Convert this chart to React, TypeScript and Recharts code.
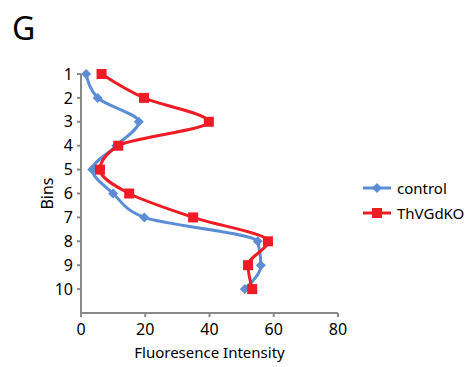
import React from 'react';
import { LineChart, Line, XAxis, YAxis, Legend } from 'recharts';

const bins = [1, 2, 3, 4, 5, 6, 7, 8, 9, 10];
const control = [1.6, 5.2, 18, 11, 3.5, 10, 19.7, 55, 56, 51];
const thvgdko = [6.4, 19.6, 39.8, 11.6, 5.9, 15, 34.9, 58.2, 52, 53.3];
const xTicks = [0, 20, 40, 60, 80];

const BLUE = '#5B8DD6';
const RED = '#EE1C25';
const AXIS = '#8A8A8A';
const FONT = '"Noto Sans", "Open Sans", sans-serif';

const data = bins.map((bin, i) => ({ bin, control: control[i], thvgdko: thvgdko[i] }));

const Diamond = (props: any) => {
  const { cx, cy } = props;
  if (cx == null || cy == null) return null;
  const r = 5;
  return <polygon points={`${cx},${cy - r} ${cx + r},${cy} ${cx},${cy + r} ${cx - r},${cy}`} fill={BLUE} />;
};

const Square = (props: any) => {
  const { cx, cy } = props;
  if (cx == null || cy == null) return null;
  const s = 10;
  return <rect x={cx - s / 2} y={cy - s / 2} width={s} height={s} fill={RED} />;
};

const legendItems = [
  { name: 'control', color: BLUE, shape: 'diamond' },
  { name: 'ThVGdKO', color: RED, shape: 'square' },
];

const LegendContent = () => (
  <div>
    {legendItems.map((item) => (
      <div key={item.name} style={{ display: 'flex', alignItems: 'center', height: 25 }}>
        <svg width={30} height={12}>
          <line x1={0} y1={6} x2={28} y2={6} stroke={item.color} strokeWidth={3} />
          {item.shape === 'diamond' ? (
            <polygon points="14,1 19,6 14,11 9,6" fill={item.color} />
          ) : (
            <rect x={9} y={1} width={10} height={10} fill={item.color} />
          )}
        </svg>
        <span style={{ marginLeft: 4, fontSize: 15, color: '#000', fontFamily: FONT }}>{item.name}</span>
      </div>
    ))}
  </div>
);

export default function App() {
  return (
    <div style={{ position: 'absolute', left: 0, top: 0, width: 475, height: 367, background: '#fff' }}>
      <div style={{ position: 'absolute', left: 12, top: 6, fontSize: 32, fontFamily: FONT, color: '#000' }}>G</div>
      <LineChart
        width={475}
        height={367}
        data={data}
        layout="vertical"
        margin={{ top: 74, right: 137, bottom: 4, left: 41 }}
      >
        <XAxis
          type="number"
          domain={[0, 80]}
          ticks={xTicks}
          stroke={AXIS}
          strokeWidth={2}
          tickSize={4}
          tickMargin={7}
          height={50}
          tick={{ fontSize: 16, fill: '#000', fontFamily: FONT }}
          label={{
            value: 'Fluoresence Intensity',
            position: 'insideBottom',
            offset: 5,
            style: { fontSize: 15, fill: '#000', fontFamily: FONT },
          }}
        />
        <YAxis
          type="number"
          dataKey="bin"
          domain={[1, 11]}
          ticks={bins}
          stroke={AXIS}
          strokeWidth={2}
          tickSize={4}
          tickMargin={4}
          width={40}
          tick={{ fontSize: 16, fill: '#000', fontFamily: FONT }}
          label={{
            value: 'Bins',
            angle: -90,
            position: 'insideLeft',
            offset: 6,
            style: { textAnchor: 'middle', fontSize: 16, fill: '#000', fontFamily: FONT },
          }}
        />
        <Legend
          layout="vertical"
          align="center"
          verticalAlign="middle"
          content={<LegendContent />}
          wrapperStyle={{ left: 363, top: 175, width: 110 }}
        />
        <Line
          type="monotone"
          dataKey="control"
          name="control"
          stroke={BLUE}
          strokeWidth={3}
          dot={<Diamond />}
          activeDot={false}
          isAnimationActive={false}
        />
        <Line
          type="monotone"
          dataKey="thvgdko"
          name="ThVGdKO"
          stroke={RED}
          strokeWidth={3}
          dot={<Square />}
          activeDot={false}
          isAnimationActive={false}
        />
      </LineChart>
    </div>
  );
}
